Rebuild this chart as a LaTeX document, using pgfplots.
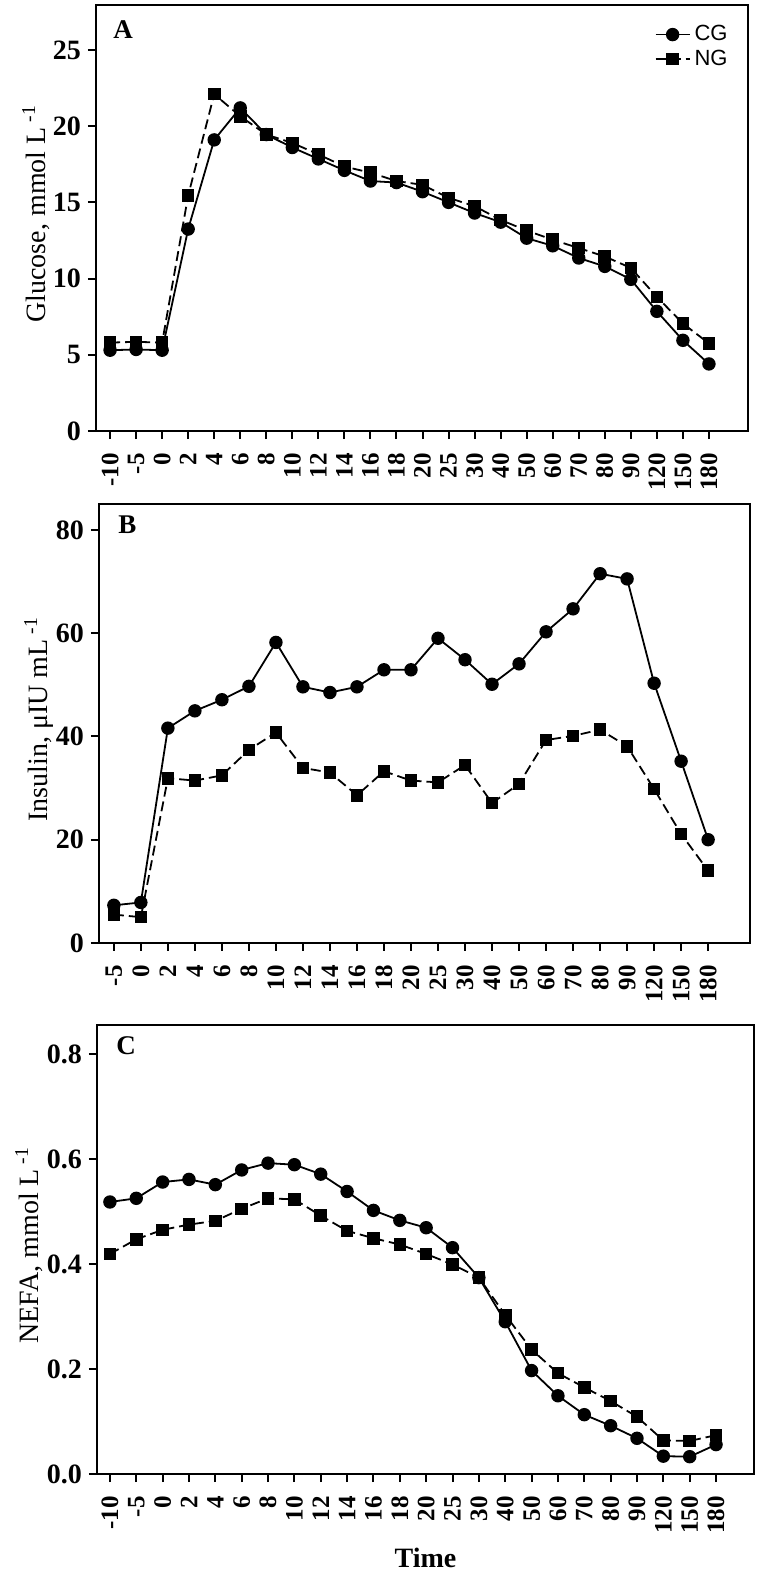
\documentclass[border=0pt]{standalone}
\usepackage{fontspec}
\setmainfont{Liberation Serif}
\setsansfont{Liberation Sans}
\usepackage{pgfplots}
\usepackage{pgfplotstable}
\pgfplotsset{compat=1.18}

% glucose, mmol/L  (t = category index)
\pgfplotstableread{
t  cg    ng
0  5.30  5.80
1  5.35  5.85
2  5.30  5.80
3  13.25 15.45
4  19.10 22.10
5  21.20 20.65
6  19.45 19.45
7  18.60 18.90
8  17.85 18.15
9  17.10 17.35
10 16.40 16.95
11 16.30 16.40
12 15.70 16.15
13 15.00 15.30
14 14.30 14.75
15 13.70 13.85
16 12.65 13.15
17 12.15 12.55
18 11.35 12.00
19 10.80 11.45
20 9.95  10.70
21 7.85  8.80
22 5.95  7.05
23 4.40  5.75
}\glucose

% insulin, uIU/mL
\pgfplotstableread{
t  cg    ng
0  7.30  5.50
1  7.85  5.00
2  41.60 31.90
3  44.95 31.45
4  47.10 32.45
5  49.70 37.40
6  58.20 40.75
7  49.60 33.90
8  48.50 33.00
9  49.60 28.60
10 52.90 33.25
11 52.90 31.45
12 59.00 31.10
13 54.85 34.45
14 50.10 27.10
15 54.05 30.80
16 60.25 39.30
17 64.70 40.10
18 71.50 41.30
19 70.50 38.10
20 50.30 29.80
21 35.20 21.10
22 20.00 14.00
}\insulin

% NEFA, mmol/L
\pgfplotstableread{
t  cg    ng
0  0.518 0.419
1  0.525 0.447
2  0.556 0.465
3  0.561 0.475
4  0.551 0.482
5  0.579 0.505
6  0.592 0.525
7  0.589 0.523
8  0.571 0.492
9  0.538 0.463
10 0.502 0.449
11 0.483 0.437
12 0.469 0.419
13 0.431 0.399
14 0.374 0.374
15 0.290 0.303
16 0.197 0.237
17 0.149 0.192
18 0.113 0.165
19 0.092 0.139
20 0.068 0.109
21 0.034 0.064
22 0.033 0.063
23 0.056 0.074
}\nefa

\pgfplotsset{
  panel/.style={
    scale only axis,
    axis line style={line width=1pt},
    tick align=outside,
    major tick length=4pt,
    every tick/.style={black, line width=1pt},
    xtick pos=left, ytick pos=left,
    xticklabel shift=6pt,
    x tick label style={rotate=90, anchor=east, font=\bfseries\fontsize{12.5}{12.5}\selectfont, inner sep=1pt},
    y tick label style={font=\bfseries\fontsize{14}{14}\selectfont},
    /pgf/number format/assume math mode=true,
    ylabel style={at={(rel axis cs:0,0.51)}, anchor=center, yshift=30pt, font=\fontsize{14}{14}\selectfont},
    clip=false,
  },
  cg/.style={black, line width=0.9pt, mark=*, mark size=2.9pt},
  ng/.style={black, line width=0.9pt, dash pattern=on 5pt off 2.5pt, mark=square*, mark size=2.7pt, mark options={solid}},
}
\tikzset{letter/.style={anchor=north west, inner sep=0pt, font=\bfseries\fontsize{13.5}{13.5}\selectfont}}

\begin{document}
\begin{tikzpicture}
\useasboundingbox (0,0) rectangle (380pt,-787pt);

% A: glucose
\begin{axis}[panel,
  at={(48pt,-2.5pt)}, anchor=north west,
  width=326pt, height=213pt,
  xmin=-0.54, xmax=24.5, ymin=0, ymax=27.95,
  xtick={0,...,23},
  xticklabels={-10,-5,0,2,4,6,8,10,12,14,16,18,20,25,30,40,50,60,70,80,90,120,150,180},
  ytick={0,5,10,15,20,25},
  ylabel={Glucose, mmol L\textsuperscript{ -1}},
  legend style={at={(1,1)}, anchor=north east, xshift=-5pt, yshift=-6pt, draw=none, fill=none,
    font=\sffamily\fontsize{11}{11}\selectfont, cells={anchor=west}, row sep=-1pt},
]
\addplot[cg] table[x=t, y=cg] {\glucose};
\addplot[ng] table[x=t, y=ng] {\glucose};
\legend{CG,NG}
\node[letter] at (rel axis cs:0,1) [xshift=8.5pt, yshift=-7.5pt] {A};
\end{axis}

% B: insulin
\begin{axis}[panel,
  at={(49.5pt,-252pt)}, anchor=north west,
  width=325.5pt, height=219.5pt,
  xmin=-0.55, xmax=23.55, ymin=0, ymax=85,
  xtick={0,...,22},
  xticklabels={-5,0,2,4,6,8,10,12,14,16,18,20,25,30,40,50,60,70,80,90,120,150,180},
  ytick={0,20,40,60,80},
  ylabel={Insulin, μIU mL\textsuperscript{ -1}},
]
\addplot[cg] table[x=t, y=cg] {\insulin};
\addplot[ng] table[x=t, y=ng] {\insulin};
\node[letter] at (rel axis cs:0,1) [xshift=9.5pt, yshift=-5.5pt] {B};
\end{axis}

% C: NEFA
\begin{axis}[panel,
  at={(48.5pt,-512.5pt)}, anchor=north west,
  width=328.5pt, height=224.5pt,
  xmin=-0.49, xmax=24.44, ymin=0, ymax=0.855,
  xtick={0,...,23},
  xticklabels={-10,-5,0,2,4,6,8,10,12,14,16,18,20,25,30,40,50,60,70,80,90,120,150,180},
  ytick={0,0.2,0.4,0.6,0.8},
  yticklabel style={/pgf/number format/.cd, fixed, fixed zerofill, precision=1},
  ylabel={NEFA, mmol L\textsuperscript{ -1}},
  ylabel style={yshift=4pt},
  xlabel={Time},
  xlabel style={at={(rel axis cs:0.5,0)}, anchor=base, yshift=-46.5pt, font=\bfseries\fontsize{14}{14}\selectfont},
]
\addplot[cg] table[x=t, y=cg] {\nefa};
\addplot[ng] table[x=t, y=ng] {\nefa};
\node[letter] at (rel axis cs:0,1) [xshift=9.5pt, yshift=-5.5pt] {C};
\end{axis}
\end{tikzpicture}
\end{document}
